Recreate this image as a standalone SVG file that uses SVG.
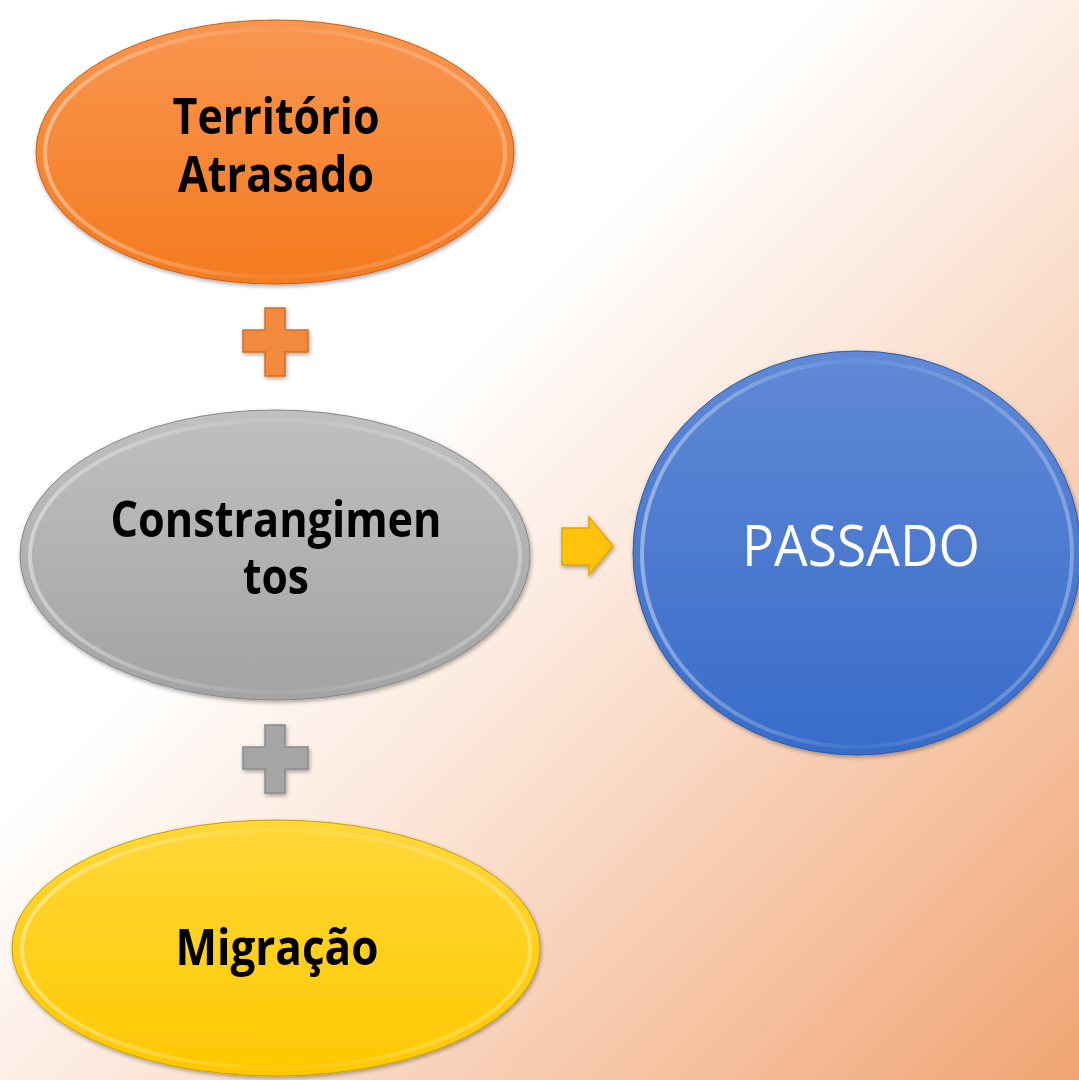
<svg xmlns="http://www.w3.org/2000/svg" width="1079" height="1080" viewBox="0 0 1079 1080">
<defs>
<linearGradient id="bg" x1="0" y1="0" x2="1" y2="1">
<stop offset="0" stop-color="#FFFFFF"/>
<stop offset="0.38" stop-color="#FFFFFF"/>
<stop offset="0.6" stop-color="#FBE1D1"/>
<stop offset="1" stop-color="#F0A473"/>
</linearGradient>
<linearGradient id="gOr" x1="0" y1="0" x2="0" y2="1">
<stop offset="0" stop-color="#F99650"/>
<stop offset="1" stop-color="#F47A1F"/>
</linearGradient>
<linearGradient id="gGr" x1="0" y1="0" x2="0" y2="1">
<stop offset="0" stop-color="#C0C0C0"/>
<stop offset="1" stop-color="#A3A3A3"/>
</linearGradient>
<linearGradient id="gYe" x1="0" y1="0" x2="0" y2="1">
<stop offset="0" stop-color="#FFD83A"/>
<stop offset="1" stop-color="#FFC800"/>
</linearGradient>
<linearGradient id="gBl" x1="0" y1="0" x2="0" y2="1">
<stop offset="0" stop-color="#6089D6"/>
<stop offset="1" stop-color="#386CC9"/>
</linearGradient>
<linearGradient id="rim" x1="0" y1="0" x2="1" y2="0">
<stop offset="0" stop-color="#FFFFFF" stop-opacity="0.4"/>
<stop offset="0.5" stop-color="#FFFFFF" stop-opacity="0.05"/>
<stop offset="1" stop-color="#FFFFFF" stop-opacity="0.3"/>
</linearGradient>
<filter id="sh" x="-10%" y="-10%" width="120%" height="120%">
<feGaussianBlur in="SourceAlpha" stdDeviation="2"/>
<feOffset dx="1" dy="2"/>
<feComponentTransfer><feFuncA type="linear" slope="0.35"/></feComponentTransfer>
<feMerge><feMergeNode/><feMergeNode in="SourceGraphic"/></feMerge>
</filter>
</defs>
<style>
.lbl{font-family:"Open Sans","Liberation Sans",Arial,sans-serif;font-weight:bold;font-size:50px;fill:#000;text-anchor:middle}
.lblw{font-family:"Open Sans","Liberation Sans",sans-serif;font-size:56px;fill:#FFFFFF;text-anchor:middle}
.rim{fill:none;stroke:url(#rim);stroke-width:4}
</style>
<rect width="1079" height="1080" fill="url(#bg)"/>
<g id="connectors">
<path id="plus1" d="M265,308 H285 V330 H308 V352 H285 V376 H265 V352 H243 V330 H265 Z" fill="#F28A3C" stroke="#D86F25" stroke-width="1.5" filter="url(#sh)"/>
<path id="plus2" d="M265,725 H285 V747 H308 V769 H285 V793 H265 V769 H243 V747 H265 Z" fill="#A5A5A5" stroke="#8C8C8C" stroke-width="1.5" filter="url(#sh)"/>
<path id="arrow" d="M562,528 H589 V517 L613,546 L589,575 V565 H562 Z" fill="#FFC20A" stroke="#E0A800" stroke-width="1.5" filter="url(#sh)"/>
</g>
<g id="node-territorio" filter="url(#sh)">
<ellipse cx="275" cy="152" rx="239" ry="132" fill="url(#gOr)" stroke="#C9611A" stroke-width="1"/>
<ellipse class="rim" cx="275" cy="153" rx="230" ry="124"/>
<text class="lbl" x="276" y="134" textLength="207" lengthAdjust="spacingAndGlyphs">Território</text>
<text class="lbl" x="276" y="192" textLength="196" lengthAdjust="spacingAndGlyphs">Atrasado</text>
</g>
<g id="node-constrangimentos" filter="url(#sh)">
<ellipse cx="275" cy="555" rx="255" ry="145" fill="url(#gGr)" stroke="#888888" stroke-width="1"/>
<ellipse class="rim" cx="275" cy="556" rx="245" ry="136"/>
<text class="lbl" x="276" y="537" textLength="331" lengthAdjust="spacingAndGlyphs">Constrangimen</text>
<text class="lbl" x="276" y="594" textLength="66" lengthAdjust="spacingAndGlyphs">tos</text>
</g>
<g id="node-migracao" filter="url(#sh)">
<ellipse cx="276" cy="948" rx="264" ry="128" fill="url(#gYe)" stroke="#C9A000" stroke-width="1"/>
<ellipse class="rim" cx="276" cy="949" rx="254" ry="119"/>
<text class="lbl" x="277" y="965" textLength="203" lengthAdjust="spacingAndGlyphs">Migração</text>
</g>
<g id="node-passado" filter="url(#sh)">
<ellipse cx="857" cy="553" rx="224" ry="202" fill="url(#gBl)" stroke="#2E5AA8" stroke-width="1"/>
<ellipse class="rim" cx="857" cy="554" rx="215" ry="193"/>
<text class="lblw" x="861" y="566" textLength="238" lengthAdjust="spacingAndGlyphs">PASSADO</text>
</g>
</svg>
